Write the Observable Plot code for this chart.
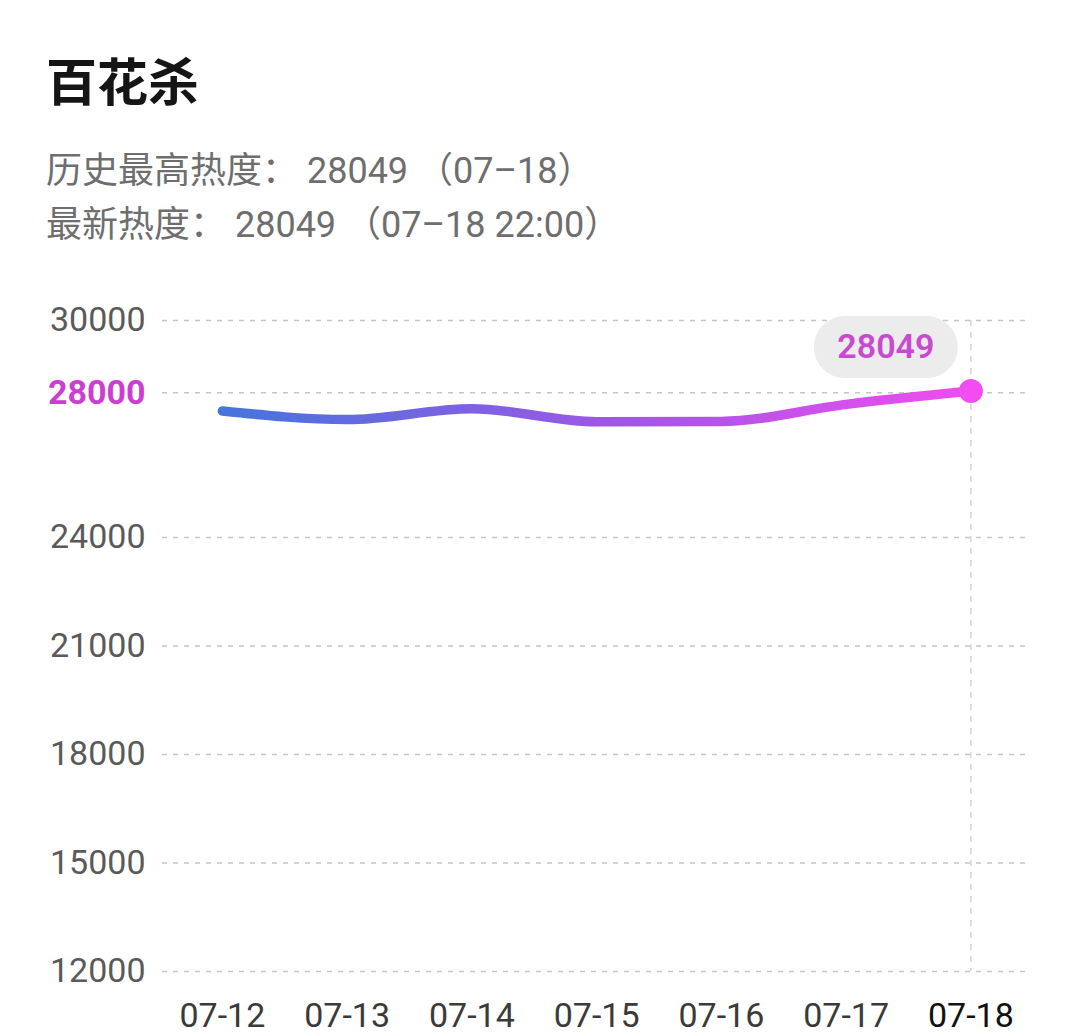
<!DOCTYPE html>
<html>
<head>
<meta charset="utf-8">
<script src="https://cdn.jsdelivr.net/npm/d3@7"></script>
<script src="https://cdn.jsdelivr.net/npm/@observablehq/plot@0.6"></script>
<style>
  html, body { margin: 0; padding: 0; background: #fff; width: 1080px; height: 1036px; overflow: hidden; }
  #wrap { position: relative; width: 1080px; height: 1036px; }
  .title { position: absolute; left: 46px; top: 54px; font-family: "Noto Sans CJK SC", sans-serif; font-weight: 700; font-size: 51px; line-height: 51px; color: #151515; }
  .sub { position: absolute; left: 46px; font-family: Roboto, "Noto Sans CJK SC", sans-serif; font-size: 36px; line-height: 36px; color: #6e6e6e; white-space: pre; }
  #chart { position: absolute; left: 0; top: 260px; }
</style>
</head>
<body>
<div id="wrap">
  <div class="title">百花杀</div>
  <div class="sub" style="top:153px">历史最高热度： 28049 （07–18）</div>
  <div class="sub" style="top:207px">最新热度： 28049 （07–18 22:00）</div>
  <div id="chart"></div>
</div>
<script>
const dates = ["07-12", "07-13", "07-14", "07-15", "07-16", "07-17", "07-18"];
const heat = [27500, 27260, 27560, 27200, 27210, 27680, 28049];
const yTicks = [12000, 15000, 18000, 21000, 24000, 28000, 30000];
const highlightTick = 28000;
const latestValue = 28049;

const data = dates.map((d, i) => ({ i, date: d, value: heat[i] }));
const last = data[data.length - 1];

const pill = {
  draw(ctx) {
    const hw = 41, r = 31;
    ctx.moveTo(-hw, -r);
    ctx.lineTo(hw, -r);
    ctx.arc(hw, 0, r, -Math.PI / 2, Math.PI / 2);
    ctx.lineTo(-hw, r);
    ctx.arc(-hw, 0, r, Math.PI / 2, Math.PI * 1.5);
    ctx.closePath();
  }
};

const chart = Plot.plot({
  width: 1080,
  height: 776,
  marginLeft: 162,
  marginRight: 51,
  marginTop: 60,
  marginBottom: 65,
  x: { axis: null, domain: [-0.48, 6.47] },
  y: { axis: null, domain: [12000, 30000] },
  style: { fontFamily: "Roboto, sans-serif", background: "transparent" },
  marks: [
    Plot.ruleY(yTicks, { y: d => d, stroke: "#c6c6c6", strokeWidth: 1.5, strokeDasharray: "5,6" }),
    Plot.ruleX([last], { x: "i", stroke: "#cfcfcf", strokeWidth: 1.3, strokeDasharray: "6,6" }),
    Plot.text(yTicks.filter(d => d !== highlightTick), {
      y: d => d, frameAnchor: "left", dx: -17, textAnchor: "end",
      fill: "#5a5a5a", fontSize: 34, text: d => String(d)
    }),
    Plot.text([highlightTick], {
      y: d => d, frameAnchor: "left", dx: -17, textAnchor: "end",
      fill: "#cc3ed2", fontSize: 34, fontWeight: 700, text: d => String(d),
      style: "filter: drop-shadow(0 0 2px rgba(255,90,255,0.7))"
    }),
    Plot.text(data, {
      x: "i", frameAnchor: "bottom", dy: 55, text: "date",
      fill: d => d.i === data.length - 1 ? "#111111" : "#3a3a3a",
      fontSize: 34
    }),
    Plot.line(data, {
      x: "i", y: "value", curve: "monotone-x",
      stroke: "url(#heatGrad)", strokeWidth: 9.5, strokeLinecap: "round",
      style: "filter: drop-shadow(0 0 3px rgba(230,120,255,0.45))"
    }),
    Plot.dot([last], { x: "i", y: "value", r: 12, fill: "#f24cf2", stroke: "none",
      style: "filter: drop-shadow(0 0 3px rgba(255,80,255,0.6))" }),
    Plot.dot([last], { x: "i", y: "value", symbol: pill, r: 10, dx: -85, dy: -44, fill: "#ececec", stroke: "none" }),
    Plot.text([last], { x: "i", y: "value", dx: -85, dy: -44, text: d => String(latestValue),
      fill: "#c84ad0", fontSize: 34, fontWeight: 600 })
  ]
});

const svg = d3.select(chart);
const defs = svg.insert("defs", ":first-child");
const grad = defs.append("linearGradient").attr("id", "heatGrad")
  .attr("x1", "0%").attr("x2", "100%").attr("y1", "0%").attr("y2", "0%");
grad.append("stop").attr("offset", "0%").attr("stop-color", "#4575dc");
grad.append("stop").attr("offset", "50%").attr("stop-color", "#9a58e4");
grad.append("stop").attr("offset", "100%").attr("stop-color", "#f04cef");

document.getElementById("chart").appendChild(chart);
</script>
</body>
</html>
